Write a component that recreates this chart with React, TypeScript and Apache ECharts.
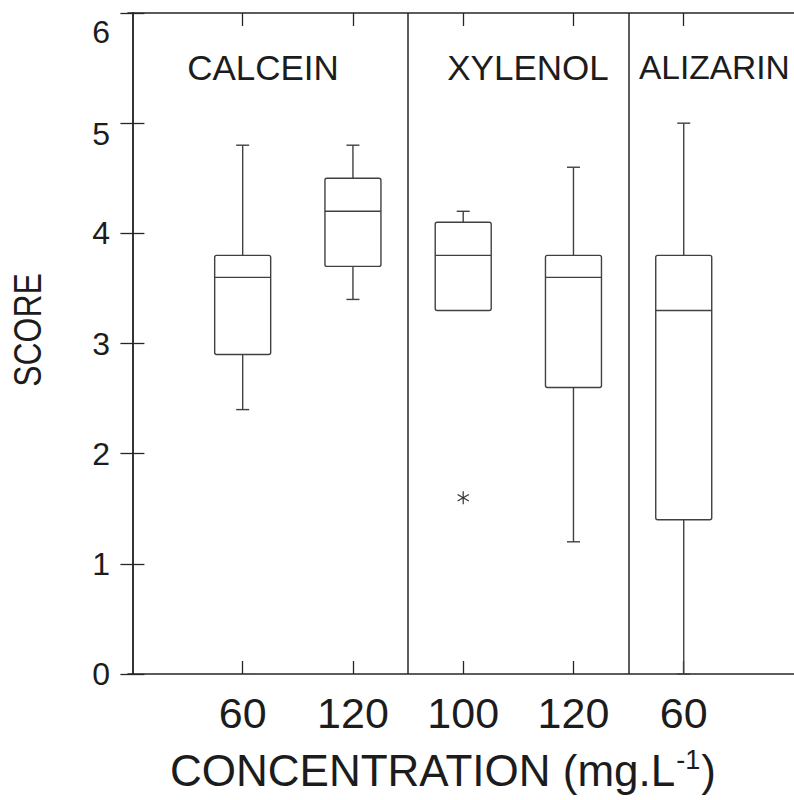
import { useEffect, useRef } from 'react';
import * as echarts from 'echarts';

// Box positions on the concentration axis and their tick labels
const positions = [1, 2, 3, 4, 5];
const concentrationLabels = ['60', '120', '100', '120', '60'];

// Five-number summaries of the score for each stain / concentration
const whiskerLow = [2.4, 3.4, 3.3, 1.2, 0];
const quartile1 = [2.9, 3.7, 3.3, 2.6, 1.4];
const medians = [3.6, 4.2, 3.8, 3.6, 3.3];
const quartile3 = [3.8, 4.5, 4.1, 3.8, 3.8];
const whiskerHigh = [4.8, 4.8, 4.2, 4.6, 5.0];

// Outlying observations [position, score]
const outliers = [[3, 1.6]];

// Stain groups and the positions of the separators between them
const groupNames = ['CALCEIN', 'XYLENOL', 'ALIZARIN'];
const groupDividers = [2.5, 4.5];

const FONT = '"Liberation Sans", Arial, Helvetica, sans-serif';
const AXIS = '#262626';
const BOX = '#404040';
const TEXT = '#1c1c1c';

function measure(text: string, size: number): number {
  const ctx = document.createElement('canvas').getContext('2d');
  if (!ctx) return text.length * size * 0.6;
  ctx.font = `${size}px "Liberation Sans"`;
  return ctx.measureText(text).width;
}

function buildOption(): echarts.EChartsOption {
  const boxData = positions.map((p, i) => [
    p,
    whiskerLow[i],
    quartile1[i],
    medians[i],
    quartile3[i],
    whiskerHigh[i],
  ]);

  const lineStyle = { stroke: BOX, lineWidth: 1.4, fill: 'none' };

  const titleMain = 'CONCENTRATION (mg.L';
  const titleSup = '-1';
  const titleEnd = ')';
  const mainSize = 44;
  const supSize = 27;
  const titleLeft = 170;
  const wMain = measure(titleMain, mainSize);
  const wSup = measure(titleSup, supSize);

  const yAxisBase = {
    type: 'value' as const,
    min: 0,
    max: 6,
    interval: 1,
    splitLine: { show: false },
    axisLine: { show: true, lineStyle: { color: AXIS, width: 1.5 } },
    axisTick: { show: true, inside: true, length: 12, lineStyle: { color: AXIS, width: 1.3 } },
  };

  const xAxisBase = {
    type: 'value' as const,
    min: -0.04,
    max: 6,
    splitLine: { show: false },
    axisLine: { show: true, onZero: false, lineStyle: { color: AXIS, width: 1.5 } },
    axisTick: {
      show: true,
      inside: true,
      length: 13,
      customValues: positions,
      lineStyle: { color: AXIS, width: 1.3 },
    },
  };

  const groupStyle = { fontSize: 35, fontFamily: FONT, fill: TEXT, verticalAlign: 'middle' as const };

  return {
    animation: false,
    backgroundColor: '#ffffff',
    grid: { left: 128, right: -6, top: 13, bottom: 126, containLabel: false },
    xAxis: [
      {
        ...xAxisBase,
        position: 'bottom',
        axisLabel: {
          show: true,
          customValues: positions,
          margin: 17,
          fontSize: 43,
          fontFamily: FONT,
          color: TEXT,
          formatter: (v: number) => {
            const idx = positions.indexOf(Math.round(v));
            return idx >= 0 ? concentrationLabels[idx] : '';
          },
        },
      },
      {
        ...xAxisBase,
        position: 'top',
        axisLabel: { show: false },
      },
    ],
    yAxis: [
      {
        ...yAxisBase,
        position: 'left',
        axisLabel: {
          show: true,
          margin: 18,
          fontSize: 32,
          fontFamily: FONT,
          color: TEXT,
          formatter: (v: number) => {
            if (v === 6) return '{six|6}';
            if (v === 5) return '{five|5}';
            return String(v);
          },
          rich: {
            six: { fontSize: 32, fontFamily: FONT, color: TEXT, padding: [37, 0, 0, 0] },
            five: { fontSize: 32, fontFamily: FONT, color: TEXT, padding: [22, 0, 0, 0] },
          },
        },
      },
      {
        ...yAxisBase,
        position: 'right',
        axisLabel: { show: false },
      },
    ],
    graphic: [
      {
        type: 'text',
        x: 28,
        y: 330,
        rotation: Math.PI / 2,
        scaleX: 0.82,
        style: {
          text: 'SCORE',
          fontSize: 39,
          fontFamily: FONT,
          fill: TEXT,
          align: 'center',
          verticalAlign: 'middle',
        },
      },
      { type: 'text', x: 263, y: 67, style: { ...groupStyle, text: groupNames[0], align: 'center' } },
      { type: 'text', x: 528, y: 67, style: { ...groupStyle, text: groupNames[1], align: 'center' } },
      { type: 'text', x: 639, y: 67, style: { ...groupStyle, fontSize: 33.5, text: groupNames[2], align: 'left' } },
      {
        type: 'text',
        x: titleLeft,
        y: 770,
        style: { text: titleMain, fontSize: mainSize, fontFamily: FONT, fill: TEXT, align: 'left', verticalAlign: 'middle' },
      },
      {
        type: 'text',
        x: titleLeft + wMain + 1,
        y: 760,
        style: { text: titleSup, fontSize: supSize, fontFamily: FONT, fill: TEXT, align: 'left', verticalAlign: 'middle' },
      },
      {
        type: 'text',
        x: titleLeft + wMain + wSup + 2,
        y: 770,
        style: { text: titleEnd, fontSize: mainSize, fontFamily: FONT, fill: TEXT, align: 'left', verticalAlign: 'middle' },
      },
    ],
    series: [
      {
        type: 'custom',
        name: 'score',
        xAxisIndex: 0,
        yAxisIndex: 0,
        data: boxData,
        encode: { x: 0, y: [1, 2, 3, 4, 5] },
        clip: false,
        renderItem: (_params: any, api: any) => {
          const x = api.value(0);
          const lo = api.coord([x, api.value(1)]);
          const q1 = api.coord([x, api.value(2)]);
          const md = api.coord([x, api.value(3)]);
          const q3 = api.coord([x, api.value(4)]);
          const hi = api.coord([x, api.value(5)]);
          const half = 28;
          const cap = 6.5;
          const cx = md[0];
          const children: any[] = [
            {
              type: 'rect',
              shape: { x: cx - half, y: q3[1], width: half * 2, height: q1[1] - q3[1], r: 2 },
              style: { stroke: BOX, lineWidth: 1.4, fill: '#ffffff' },
            },
            {
              type: 'line',
              shape: { x1: cx - half, y1: md[1], x2: cx + half, y2: md[1] },
              style: lineStyle,
            },
          ];
          if (hi[1] < q3[1] - 0.5) {
            children.push(
              { type: 'line', shape: { x1: cx, y1: q3[1], x2: cx, y2: hi[1] }, style: lineStyle },
              { type: 'line', shape: { x1: cx - cap, y1: hi[1], x2: cx + cap, y2: hi[1] }, style: lineStyle },
            );
          }
          if (lo[1] > q1[1] + 0.5) {
            children.push(
              { type: 'line', shape: { x1: cx, y1: q1[1], x2: cx, y2: lo[1] }, style: lineStyle },
              { type: 'line', shape: { x1: cx - cap, y1: lo[1], x2: cx + cap, y2: lo[1] }, style: lineStyle },
            );
          }
          return { type: 'group', children };
        },
        markLine: {
          silent: true,
          symbol: ['none', 'none'],
          label: { show: false },
          lineStyle: { color: AXIS, width: 1.5, type: 'solid' },
          data: groupDividers.map((d) => ({ xAxis: d })),
        },
        z: 2,
      },
      {
        type: 'custom',
        name: 'outliers',
        xAxisIndex: 0,
        yAxisIndex: 0,
        data: outliers,
        encode: { x: 0, y: 1 },
        renderItem: (_params: any, api: any) => {
          const p = api.coord([api.value(0), api.value(1)]);
          const r = 6.5;
          const dx = r * Math.cos(Math.PI / 6);
          const dy = r * Math.sin(Math.PI / 6);
          const st = { stroke: '#333', lineWidth: 1.2 };
          return {
            type: 'group',
            children: [
              { type: 'line', shape: { x1: p[0], y1: p[1] - r, x2: p[0], y2: p[1] + r }, style: st },
              { type: 'line', shape: { x1: p[0] - dx, y1: p[1] - dy, x2: p[0] + dx, y2: p[1] + dy }, style: st },
              { type: 'line', shape: { x1: p[0] - dx, y1: p[1] + dy, x2: p[0] + dx, y2: p[1] - dy }, style: st },
            ],
          };
        },
        z: 3,
      },
    ],
  } as echarts.EChartsOption;
}

export default function App() {
  const ref = useRef<HTMLDivElement>(null);

  useEffect(() => {
    if (!ref.current) return;
    const chart = echarts.init(ref.current, null, { renderer: 'svg' });
    chart.setOption(buildOption());
    return () => {
      chart.dispose();
    };
  }, []);

  return (
    <div
      ref={ref}
      style={{ position: 'absolute', left: 0, top: 0, width: 794, height: 800, background: '#ffffff' }}
    />
  );
}
